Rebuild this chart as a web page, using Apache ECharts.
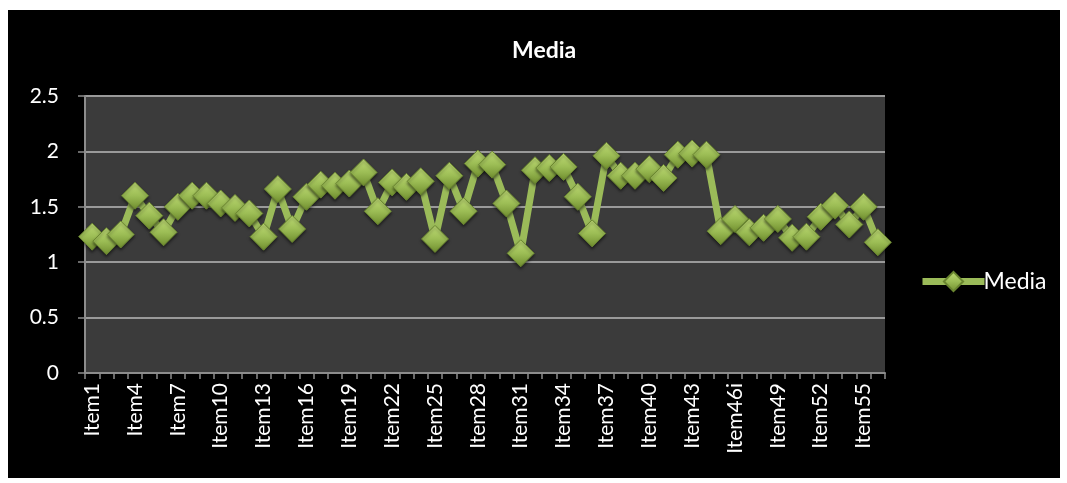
<!DOCTYPE html>
<html>
<head>
  <meta charset="utf-8">
  <title>Media</title>
  <style>
    body { margin: 0; background: #fff; }
    #chart { position: absolute; left: 8px; top: 10px; width: 1052px; height: 468px; background: #000; }
  </style>
</head>
<body>
  <div id="chart"></div>
  <script src="https://cdn.jsdelivr.net/npm/echarts@6/dist/echarts.min.js"></script>
  <script type="text/javascript">
    // categories (Item46 carries a stray "i" in the source)
    var categories = [];
    for (var i = 1; i <= 56; i++) {
      categories.push(i === 46 ? 'Item46i' : 'Item' + i);
    }
    var mediaValues = [
      1.23, 1.19, 1.25, 1.60, 1.42, 1.27, 1.50, 1.60, 1.60, 1.53,
      1.49, 1.44, 1.23, 1.66, 1.30, 1.59, 1.70, 1.69, 1.71, 1.81,
      1.46, 1.72, 1.68, 1.73, 1.21, 1.78, 1.46, 1.89, 1.88, 1.53,
      1.08, 1.83, 1.85, 1.86, 1.59, 1.26, 1.96, 1.78, 1.78, 1.84,
      1.76, 1.97, 1.98, 1.97, 1.28, 1.39, 1.27, 1.31, 1.39, 1.22,
      1.23, 1.41, 1.51, 1.34, 1.50, 1.18
    ];
    var yTicks = { min: 0, max: 2.5, step: 0.5 };

    var font = 'Lato, "Open Sans", sans-serif';
    var chart = echarts.init(document.getElementById('chart'));
    chart.setOption({
      backgroundColor: '#000',
      title: {
        text: 'Media',
        left: 499,
        top: 24,
        textStyle: { color: '#fff', fontSize: 23, fontWeight: 'bold', fontFamily: font }
      },
      legend: {
        left: 906,
        top: 255,
        itemWidth: 62,
        itemHeight: 24,
        itemGap: 4,
        lineStyle: { width: 7 },
        textStyle: { color: '#fff', fontSize: 23, fontFamily: font, padding: [0, 0, 0, -6] },
        data: ['Media']
      },
      grid: {
        left: 77,
        top: 86,
        width: 800,
        height: 277,
        show: true,
        backgroundColor: '#3b3b3b',
        borderWidth: 0
      },
      xAxis: {
        type: 'category',
        data: categories,
        boundaryGap: true,
        axisLine: { lineStyle: { color: '#8c8c8c', width: 2 } },
        axisTick: { show: true, interval: 0, length: 6, lineStyle: { color: '#8c8c8c', width: 1.5 } },
        axisLabel: {
          interval: 2,
          rotate: 90,
          color: '#fff',
          fontSize: 21,
          fontFamily: font,
          margin: 10
        },
        splitLine: { show: false }
      },
      yAxis: {
        type: 'value',
        min: yTicks.min,
        max: yTicks.max,
        interval: yTicks.step,
        axisLine: { show: true, lineStyle: { color: '#8c8c8c', width: 2 } },
        axisTick: { show: true, length: 7, lineStyle: { color: '#8c8c8c', width: 1.5 } },
        axisLabel: { color: '#fff', fontSize: 21, fontFamily: font, margin: 26 },
        splitLine: { lineStyle: { color: '#9a9a9a', width: 2 } }
      },
      series: [{
        name: 'Media',
        type: 'line',
        data: mediaValues,
        symbol: 'diamond',
        symbolSize: 27,
        showAllSymbol: true,
        lineStyle: { color: '#9bbb59', width: 7 },
        itemStyle: {
          color: new echarts.graphic.LinearGradient(0, 0, 0, 1, [
            { offset: 0, color: '#c0dc76' },
            { offset: 0.5, color: '#9cbd55' },
            { offset: 1, color: '#6f8d2e' }
          ]),
          borderColor: '#6a8630',
          borderWidth: 1,
          shadowColor: 'rgba(0,0,0,0.5)',
          shadowBlur: 3,
          shadowOffsetY: 2
        },
        emphasis: { disabled: true },
        animation: false
      }]
    });
    window.addEventListener('resize', chart.resize);
  </script>
</body>
</html>
